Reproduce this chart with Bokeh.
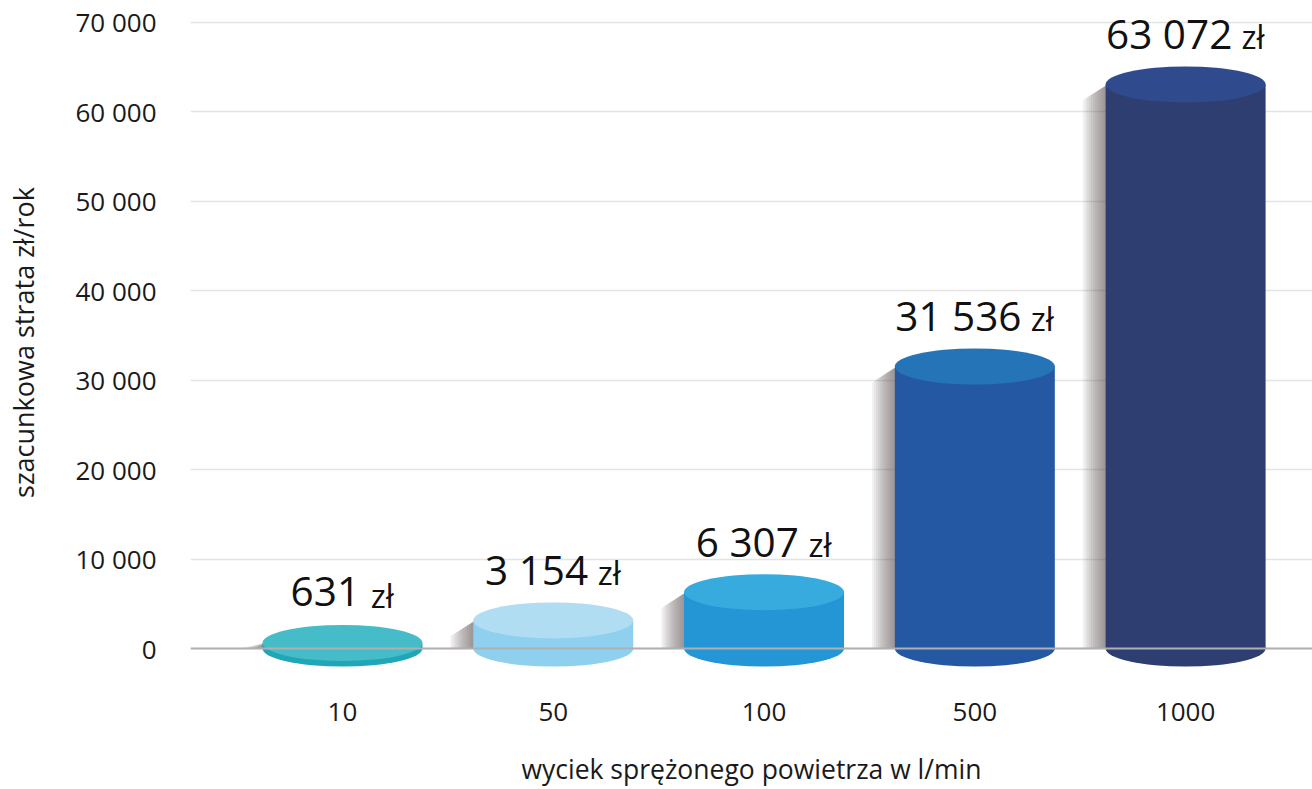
from bokeh.plotting import figure
from bokeh.models import Range1d, FixedTicker, ColumnDataSource, Span
from bokeh.core.properties import value
from bokeh.embed import file_html
from bokeh.resources import INLINE

# ---- data ----
categories = ["10", "50", "100", "500", "1000"]
losses = [631, 3154, 6307, 31536, 63072]
y_ticks = [0, 10000, 20000, 30000, 40000, 50000, 60000, 70000]
y_tick_labels = ["0", "10 000", "20 000", "30 000", "40 000", "50 000", "60 000", "70 000"]
body_colors = ["#1fa7b8", "#8fd0ee", "#2495d5", "#2558a3", "#2e3e70"]
top_colors = ["#46bcc8", "#b1ddf3", "#37aade", "#2574b8", "#2f4b8d"]
unit = "zł"
y_title = "szacunkowa strata zł/rok"
x_title = "wyciek sprężonego powietrza w l/min"

FONT = "Open Sans"
xs = list(range(len(categories)))
BAR_W = 0.759
X0, X1 = -0.721, 4.602
Y0, Y1 = -4013, 72452

p = figure(width=1312, height=789, output_backend="svg", toolbar_location=None,
           x_range=Range1d(X0, X1), y_range=Range1d(Y0, Y1),
           min_border_left=190, min_border_right=0, min_border_top=0, min_border_bottom=103)
p.outline_line_color = None
p.background_fill_color = "white"

# grid
p.xgrid.visible = False
p.ygrid.ticker = FixedTicker(ticks=y_ticks)
p.ygrid.grid_line_color = "#e4e4e4"
p.ygrid.grid_line_width = 1.5

# axes
p.yaxis.ticker = FixedTicker(ticks=y_ticks)
p.yaxis.major_label_overrides = {t: l for t, l in zip(y_ticks, y_tick_labels)}
p.xaxis.ticker = FixedTicker(ticks=xs)
p.xaxis.major_label_overrides = {i: c for i, c in zip(xs, categories)}
for ax in (p.xaxis[0], p.yaxis[0]):
    ax.axis_line_color = None
    ax.major_tick_line_color = None
    ax.minor_tick_line_color = None
    ax.major_label_text_font = FONT
    ax.major_label_text_font_size = "26px"
    ax.major_label_text_color = "#1a1a1a"
    ax.axis_label_text_font = FONT
    ax.axis_label_text_font_style = "normal"
    ax.axis_label_text_color = "#1a1a1a"
p.yaxis.major_label_standoff = 28
p.xaxis.major_label_standoff = 12
p.xaxis.axis_label = x_title
p.xaxis.axis_label_text_font_size = "26.5px"
p.xaxis.axis_label_standoff = 27
p.yaxis.axis_label = y_title
p.yaxis.axis_label_text_font_size = "27px"
p.yaxis.axis_label_standoff = 30

px_per_x = 1122 / (X1 - X0)
px_per_y = 686 / (Y1 - Y0)

# baseline
p.add_layout(Span(location=0, dimension="width", line_color="#b0b0b0", line_width=2))

# shadows: nested translucent polygons give a gradient to the left of each cylinder
sh_w = 25 / px_per_x
slant = 16 / px_per_y
n = 12
sxs, sys = [], []
for x, v in zip(xs, losses):
    left = x - BAR_W / 2 + 0.01
    for j in range(n):
        xa = left - sh_w * (j + 1) / n
        top_a = max(0, v - slant * (j + 1) / n)
        sxs.append([xa, left, left, xa])
        sys.append([0, 0, v, top_a])
p.patches(xs="xs", ys="ys", source=ColumnDataSource(dict(xs=sxs, ys=sys)),
          fill_color="#5a5454", fill_alpha=0.075, line_color=None)

src = ColumnDataSource(dict(x=xs, v=losses, zero=[0] * len(xs), body=body_colors, top=top_colors))
p.ellipse(x="x", y="zero", width=BAR_W, height=36, height_units="screen", source=src,
          fill_color="body", line_color=None)
p.vbar(x="x", top="v", bottom=0, width=BAR_W, source=src, fill_color="body", line_color=None)
p.ellipse(x="x", y="v", width=BAR_W, height=36, height_units="screen", source=src,
          fill_color="top", line_color=None)

# value labels: large number + smaller unit
NUM_FS, UNIT_FS, GAP = 40.5, 32, 12
num_txt, num_off, unit_off = [], [], []
for v in losses:
    s = f"{v:,}".replace(",", " ")
    w_num = (sum(ch.isdigit() for ch in s) * 0.56 + s.count(" ") * 0.25) * NUM_FS
    w_unit = 0.74 * UNIT_FS
    total = w_num + GAP + w_unit
    num_txt.append(s)
    num_off.append(-total / 2)
    unit_off.append(-total / 2 + w_num + GAP)
NUM_DY = -51
UNIT_DY = NUM_DY + 0.388 * (NUM_FS - UNIT_FS)
lab = ColumnDataSource(dict(x=xs, v=losses, t=num_txt, o1=num_off, o2=unit_off, u=[unit] * len(xs)))
p.text(x="x", y="v", text="t", x_offset="o1", y_offset=NUM_DY, source=lab,
       text_font=value(FONT), text_font_size=f"{NUM_FS}px", text_color="#111111",
       text_align="left", text_baseline="alphabetic")
p.text(x="x", y="v", text="u", x_offset="o2", y_offset=UNIT_DY, source=lab,
       text_font=value(FONT), text_font_size=f"{UNIT_FS}px", text_color="#111111",
       text_align="left", text_baseline="alphabetic")

open("out.html", "w").write(file_html(p, INLINE))
